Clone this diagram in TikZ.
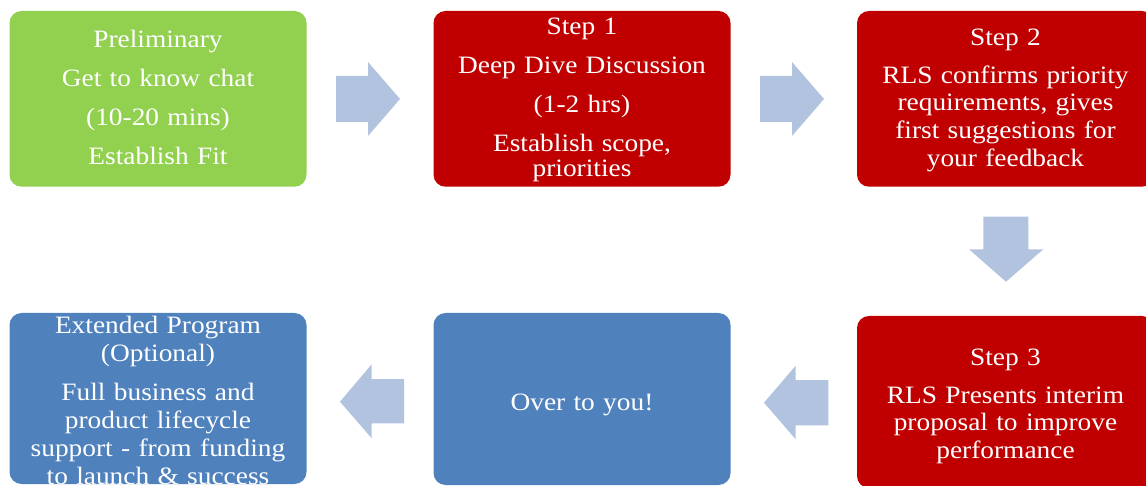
\documentclass[tikz,border=0pt]{standalone}
\usepackage{fontspec}
\setmainfont{Liberation Serif}[FakeStretch=1.095]
\definecolor{boxgreen}{HTML}{92D050}
\definecolor{boxred}{HTML}{C00000}
\definecolor{boxblue}{HTML}{4F81BD}
\definecolor{arrowblue}{RGB}{177,195,222}
\tikzset{
  box/.style={draw=none, rounded corners=12pt, inner sep=0pt, minimum width=297pt},
  txt/.style={text=white, text width=300pt, align=center, anchor=base, inner sep=0pt,
    font=\fontsize{25}{27.8}\selectfont},
  blockarrow/.style={fill=arrowblue, draw=none},
}
\begin{document}
\begin{tikzpicture}[x=1pt,y=-1pt]
\useasboundingbox (0,0) rectangle (1146,486);
\clip (0,0) rectangle (1146,486);
% boxes
\node[box, fill=boxgreen, minimum height=175.7pt] (prelim) at (158,98.85) {};
\node[box, fill=boxred, minimum height=175.7pt] (step1) at (582,98.85) {};
\node[box, fill=boxred, minimum height=175.7pt] (step2) at (1005.5,98.85) {};
\node[box, fill=boxred, minimum height=172pt] (step3) at (1005.5,402) {};
\node[box, fill=boxblue, minimum height=172pt] (over) at (582,399) {};
\node[box, fill=boxblue, minimum height=171pt] (ext) at (158,398.5) {};
% texts
\node[txt] (prelimtxt) at (158,48) {Preliminary\\[11pt]Get to know chat\\[11pt](10-20 mins)\\[11pt]Establish Fit};
\node[txt] (step1txt) at (582,35) {Step 1\\[11pt]Deep Dive Discussion\\[11pt](1-2 hrs)\\[11pt]Establish scope,\\[-3pt]priorities};
\node[txt] (step2txt) at (1005.5,45.7) {Step 2\\[9.6pt]RLS confirms priority\\requirements, gives\\first suggestions for\\your feedback};
\node[txt] (step3txt) at (1005.5,365) {Step 3\\[10.3pt]RLS Presents interim\\proposal to improve\\performance};
\node[txt] (overtxt) at (582,410) {Over to you!};
\node[txt] (exttxt) at (158,333.3) {Extended Program\\(Optional)\\[12pt]Full business and\\product lifecycle\\support - from funding\\to launch \& success};
% block arrows
\fill[blockarrow] (336,76) -- (368,76) -- (368,62) -- (400,99) -- (368,136) -- (368,122) -- (336,122) -- cycle;
\fill[blockarrow] (760,76) -- (792,76) -- (792,62) -- (824,99) -- (792,136) -- (792,122) -- (760,122) -- cycle;
\fill[blockarrow] (983.3,216.7) -- (1028.3,216.7) -- (1028.3,249.3) -- (1043.3,249.3) -- (1006,281.7) -- (969,249.3) -- (983.3,249.3) -- cycle;
\fill[blockarrow] (828.3,380) -- (795.7,380) -- (795.7,365.7) -- (764,402.7) -- (795.7,439.3) -- (795.7,425.3) -- (828.3,425.3) -- cycle;
\fill[blockarrow] (404,379) -- (371.7,379) -- (371.7,364.3) -- (340,401.7) -- (371.7,438.3) -- (371.7,423.3) -- (404,423.3) -- cycle;
\end{tikzpicture}
\end{document}
